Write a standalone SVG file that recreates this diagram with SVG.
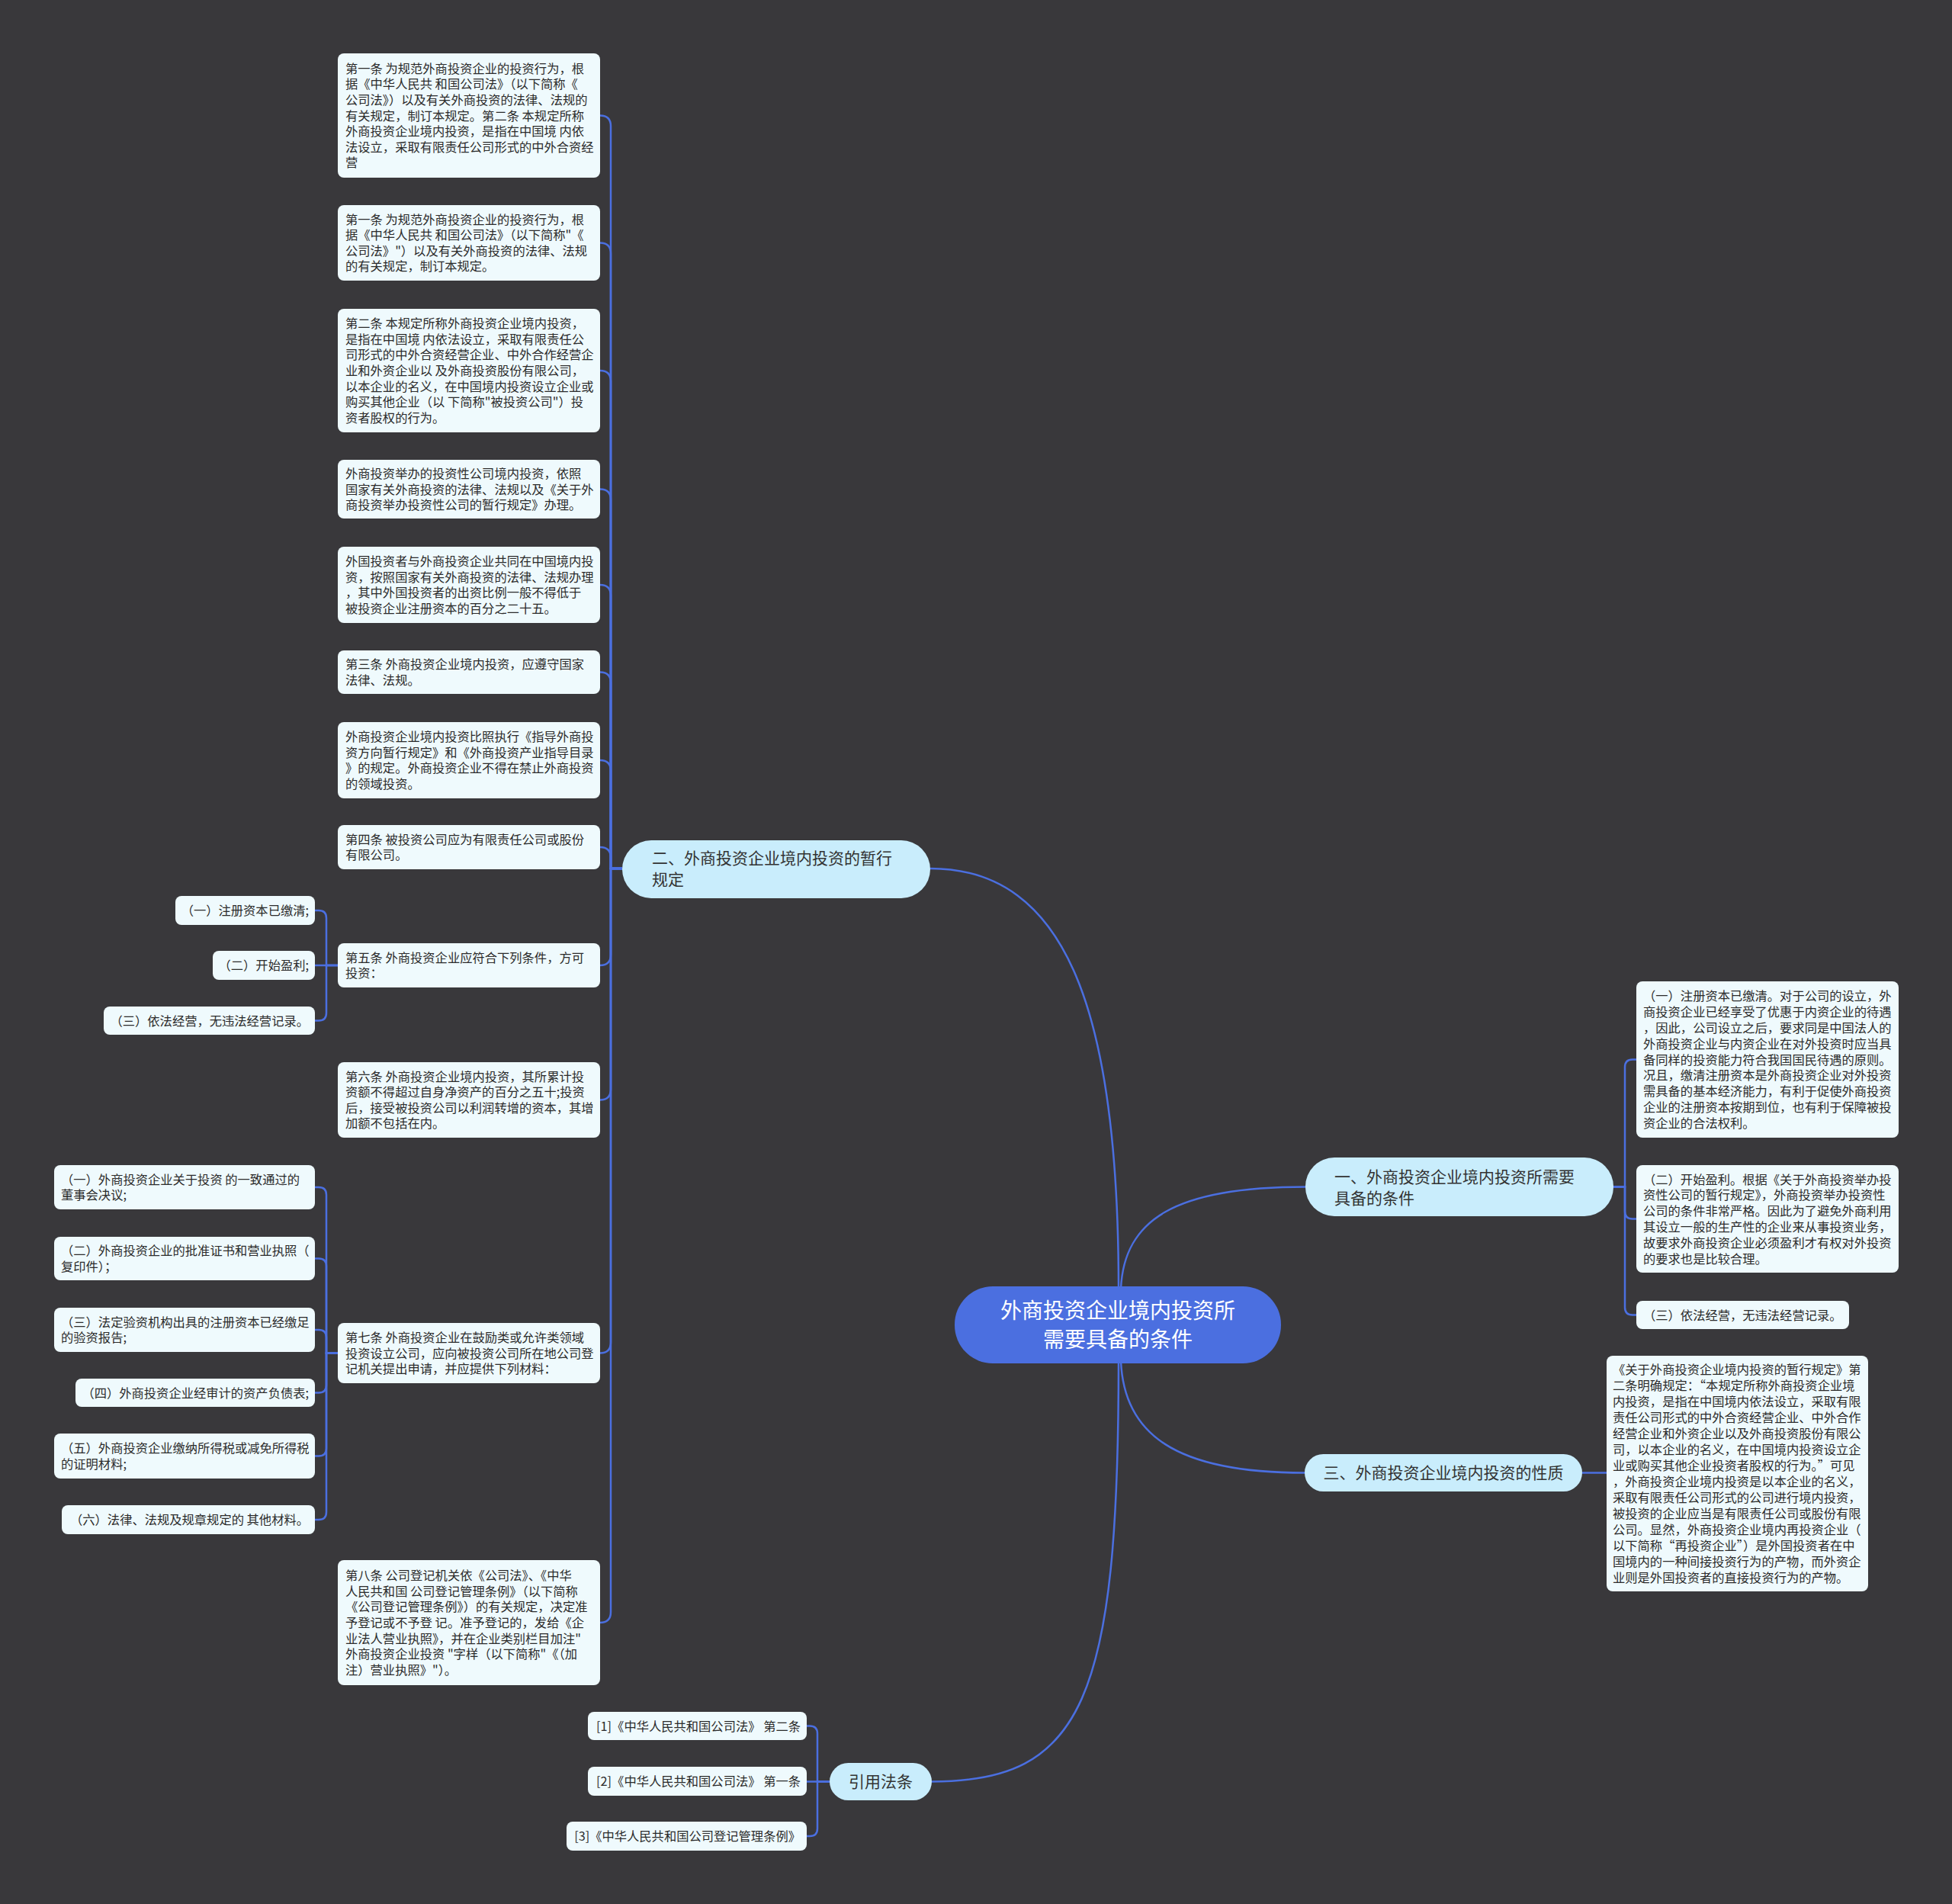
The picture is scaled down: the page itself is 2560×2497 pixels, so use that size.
<svg xmlns="http://www.w3.org/2000/svg" width="2560" height="2497" viewBox="0 0 2560 2497">
<style>
.bg{fill:#39383b}
.c path{fill:none;stroke:#4b6fe0;stroke-width:2.5}
.n rect{fill:#effafd}
.t{font-family:"Noto Sans CJK SC","Noto Sans",sans-serif;font-size:16.3px;fill:#2b2b2b}
.e{text-anchor:end}
.b rect{fill:#c9edfc}
.bt{font-family:"Noto Sans CJK SC","Noto Sans",sans-serif;font-size:21px;fill:#333}
.r rect{fill:#4b6fe0}
.rt{font-family:"Noto Sans CJK SC","Noto Sans",sans-serif;font-size:28px;fill:#fff;text-anchor:middle}
</style>
<rect class="bg" x="0" y="0" width="2560" height="2497"/>
<g class="c" id="connectors">
<path d="M1467,1690 C1467,1330 1400,1139 1220,1139"/>
<path d="M1470,1690 C1474,1600 1540,1556.5 1712,1556.5"/>
<path d="M1470,1785 C1474,1880 1540,1931.5 1711,1931.5"/>
<path d="M1467,1785 C1467,2230 1420,2336.5 1222,2336.5"/>
<path d="M787,151.5 Q801,151.5 801,165.5 V1139 H816"/>
<path d="M787,318.5 Q801,318.5 801,332.5 V1139 H816"/>
<path d="M787,486 Q801,486 801,500 V1139 H816"/>
<path d="M787,641.5 Q801,641.5 801,655.5 V1139 H816"/>
<path d="M787,767 Q801,767 801,781 V1139 H816"/>
<path d="M787,881.5 Q801,881.5 801,895.5 V1139 H816"/>
<path d="M787,997 Q801,997 801,1011 V1139 H816"/>
<path d="M787,1111 Q801,1111 801,1125 V1139 H816"/>
<path d="M787,1266 Q801,1266 801,1252 V1139 H816"/>
<path d="M787,1442.5 Q801,1442.5 801,1428.5 V1139 H816"/>
<path d="M787,1774.5 Q801,1774.5 801,1760.5 V1139 H816"/>
<path d="M787,2128 Q801,2128 801,2114 V1139 H816"/>
<path d="M413,1194 H418 Q428,1194 428,1204 V1266 H444"/>
<path d="M413,1266 H444"/>
<path d="M413,1338.5 H418 Q428,1338.5 428,1328.5 V1266 H444"/>
<path d="M413,1557 H418 Q428,1557 428,1567 V1774.5 H444"/>
<path d="M413,1650.5 H418 Q428,1650.5 428,1660.5 V1774.5 H444"/>
<path d="M413,1744 H418 Q428,1744 428,1754 V1774.5 H444"/>
<path d="M413,1826.5 H418 Q428,1826.5 428,1816.5 V1774.5 H444"/>
<path d="M413,1909.5 H418 Q428,1909.5 428,1899.5 V1774.5 H444"/>
<path d="M413,1993 H418 Q428,1993 428,1983 V1774.5 H444"/>
<path d="M2146,1389.5 H2141 Q2131,1389.5 2131,1399.5 V1556.5 H2116"/>
<path d="M2146,1598.5 H2141 Q2131,1598.5 2131,1588.5 V1556.5 H2116"/>
<path d="M2146,1724.5 H2141 Q2131,1724.5 2131,1714.5 V1556.5 H2116"/>
<path d="M2075,1931.5 H2107"/>
<path d="M1058,2263.5 H1062 Q1072,2263.5 1072,2273.5 V2336.5 H1088"/>
<path d="M1058,2336.5 H1088"/>
<path d="M1058,2408 H1062 Q1072,2408 1072,2398 V2336.5 H1088"/>
</g>

<g class="r" id="root">
<rect x="1252" y="1687" width="428" height="101" rx="50"/>
<text class="rt"><tspan x="1466" y="1729">外商投资企业境内投资所</tspan><tspan x="1466" y="1767">需要具备的条件</tspan></text>
</g>

<g class="b" id="b2">
<rect x="816" y="1102" width="404" height="76" rx="38"/>
<text class="bt"><tspan x="855" y="1132.5">二、外商投资企业境内投资的暂行</tspan><tspan x="855" y="1160.5">规定</tspan></text>
</g>
<g class="b" id="b1">
<rect x="1712" y="1518" width="404" height="77" rx="38"/>
<text class="bt"><tspan x="1750" y="1550.5">一、外商投资企业境内投资所需要</tspan><tspan x="1750" y="1578.5">具备的条件</tspan></text>
</g>
<g class="b" id="b3">
<rect x="1711" y="1907" width="364" height="49" rx="24.5"/>
<text class="bt" x="1893" y="1939" text-anchor="middle">三、外商投资企业境内投资的性质</text>
</g>
<g class="b" id="b4">
<rect x="1088" y="2312" width="134" height="49" rx="24.5"/>
<text class="bt" x="1155" y="2344" text-anchor="middle">引用法条</text>
</g>

<g class="n" id="n2-1">
<rect x="443" y="70" width="344" height="163" rx="8"/>
<text class="t"><tspan x="453" y="95.7">第一条 为规范外商投资企业的投资行为，根</tspan><tspan x="453" y="116.3">据《中华人民共 和国公司法》（以下简称《</tspan><tspan x="453" y="136.9">公司法》）以及有关外商投资的法律、法规的</tspan><tspan x="453" y="157.5">有关规定，制订本规定。第二条 本规定所称</tspan><tspan x="453" y="178.1">外商投资企业境内投资，是指在中国境 内依</tspan><tspan x="453" y="198.7">法设立，采取有限责任公司形式的中外合资经</tspan><tspan x="453" y="219.3">营</tspan></text>
</g>
<g class="n" id="n2-2">
<rect x="443" y="269" width="344" height="99" rx="8"/>
<text class="t"><tspan x="453" y="293.6">第一条 为规范外商投资企业的投资行为，根</tspan><tspan x="453" y="314.2">据《中华人民共 和国公司法》（以下简称"《</tspan><tspan x="453" y="334.8">公司法》"）以及有关外商投资的法律、法规</tspan><tspan x="453" y="355.4">的有关规定，制订本规定。</tspan></text>
</g>
<g class="n" id="n2-3">
<rect x="443" y="405" width="344" height="162" rx="8"/>
<text class="t"><tspan x="453" y="430.2">第二条 本规定所称外商投资企业境内投资，</tspan><tspan x="453" y="450.8">是指在中国境 内依法设立，采取有限责任公</tspan><tspan x="453" y="471.4">司形式的中外合资经营企业、中外合作经营企</tspan><tspan x="453" y="492">业和外资企业以 及外商投资股份有限公司，</tspan><tspan x="453" y="512.6">以本企业的名义，在中国境内投资设立企业或</tspan><tspan x="453" y="533.2">购买其他企业（以 下简称"被投资公司"）投</tspan><tspan x="453" y="553.8">资者股权的行为。</tspan></text>
</g>
<g class="n" id="n2-4">
<rect x="443" y="603" width="344" height="77" rx="8"/>
<text class="t"><tspan x="453" y="626.9">外商投资举办的投资性公司境内投资，依照</tspan><tspan x="453" y="647.5">国家有关外商投资的法律、法规以及《关于外</tspan><tspan x="453" y="668.1">商投资举办投资性公司的暂行规定》办理。</tspan></text>
</g>
<g class="n" id="n2-5">
<rect x="443" y="717" width="344" height="100" rx="8"/>
<text class="t"><tspan x="453" y="742.1">外国投资者与外商投资企业共同在中国境内投</tspan><tspan x="453" y="762.7">资，按照国家有关外商投资的法律、法规办理</tspan><tspan x="453" y="783.3">，其中外国投资者的出资比例一般不得低于</tspan><tspan x="453" y="803.9">被投资企业注册资本的百分之二十五。</tspan></text>
</g>
<g class="n" id="n2-6">
<rect x="443" y="853" width="344" height="57" rx="8"/>
<text class="t"><tspan x="453" y="877.2">第三条 外商投资企业境内投资，应遵守国家</tspan><tspan x="453" y="897.8">法律、法规。</tspan></text>
</g>
<g class="n" id="n2-7">
<rect x="443" y="947" width="344" height="100" rx="8"/>
<text class="t"><tspan x="453" y="972.1">外商投资企业境内投资比照执行《指导外商投</tspan><tspan x="453" y="992.7">资方向暂行规定》和《外商投资产业指导目录</tspan><tspan x="453" y="1013.3">》的规定。外商投资企业不得在禁止外商投资</tspan><tspan x="453" y="1033.9">的领域投资。</tspan></text>
</g>
<g class="n" id="n2-8">
<rect x="443" y="1082" width="344" height="58" rx="8"/>
<text class="t"><tspan x="453" y="1106.7">第四条 被投资公司应为有限责任公司或股份</tspan><tspan x="453" y="1127.3">有限公司。</tspan></text>
</g>
<g class="n" id="n2-9">
<rect x="443" y="1237" width="344" height="58" rx="8"/>
<text class="t"><tspan x="453" y="1261.7">第五条 外商投资企业应符合下列条件，方可</tspan><tspan x="453" y="1282.3">投资：</tspan></text>
</g>
<g class="n" id="n2-9-1">
<rect x="230" y="1175" width="183" height="38" rx="8"/>
<text class="t e" x="405" y="1200">（一）注册资本已缴清;</text>
</g>
<g class="n" id="n2-9-2">
<rect x="279" y="1247" width="134" height="38" rx="8"/>
<text class="t e" x="405" y="1272">（二）开始盈利;</text>
</g>
<g class="n" id="n2-9-3">
<rect x="136" y="1320" width="277" height="37" rx="8"/>
<text class="t e" x="405" y="1344.5">（三）依法经营，无违法经营记录。</text>
</g>
<g class="n" id="n2-10">
<rect x="443" y="1393" width="344" height="99" rx="8"/>
<text class="t"><tspan x="453" y="1417.6">第六条 外商投资企业境内投资，其所累计投</tspan><tspan x="453" y="1438.2">资额不得超过自身净资产的百分之五十;投资</tspan><tspan x="453" y="1458.8">后，接受被投资公司以利润转增的资本，其增</tspan><tspan x="453" y="1479.4">加额不包括在内。</tspan></text>
</g>
<g class="n" id="n2-11">
<rect x="443" y="1735" width="344" height="79" rx="8"/>
<text class="t"><tspan x="453" y="1759.9">第七条 外商投资企业在鼓励类或允许类领域</tspan><tspan x="453" y="1780.5">投资设立公司，应向被投资公司所在地公司登</tspan><tspan x="453" y="1801.1">记机关提出申请，并应提供下列材料：</tspan></text>
</g>
<g class="n" id="n2-11-1">
<rect x="71" y="1528" width="342" height="58" rx="8"/>
<text class="t"><tspan x="80" y="1552.7">（一）外商投资企业关于投资 的一致通过的</tspan><tspan x="80" y="1573.3">董事会决议;</tspan></text>
</g>
<g class="n" id="n2-11-2">
<rect x="71" y="1622" width="342" height="57" rx="8"/>
<text class="t"><tspan x="80" y="1646.2">（二）外商投资企业的批准证书和营业执照（</tspan><tspan x="80" y="1666.8">复印件）；</tspan></text>
</g>
<g class="n" id="n2-11-3">
<rect x="71" y="1715" width="342" height="58" rx="8"/>
<text class="t"><tspan x="80" y="1739.7">（三）法定验资机构出具的注册资本已经缴足</tspan><tspan x="80" y="1760.3">的验资报告;</tspan></text>
</g>
<g class="n" id="n2-11-4">
<rect x="99" y="1808" width="314" height="37" rx="8"/>
<text class="t e" x="405" y="1832.5">（四）外商投资企业经审计的资产负债表;</text>
</g>
<g class="n" id="n2-11-5">
<rect x="71" y="1880" width="342" height="59" rx="8"/>
<text class="t"><tspan x="80" y="1905.2">（五）外商投资企业缴纳所得税或减免所得税</tspan><tspan x="80" y="1925.8">的证明材料;</tspan></text>
</g>
<g class="n" id="n2-11-6">
<rect x="81" y="1974" width="332" height="38" rx="8"/>
<text class="t e" x="405" y="1999">（六）法律、法规及规章规定的 其他材料。</text>
</g>
<g class="n" id="n2-12">
<rect x="443" y="2046" width="344" height="164" rx="8"/>
<text class="t"><tspan x="453" y="2072.2">第八条 公司登记机关依《公司法》、《中华</tspan><tspan x="453" y="2092.8">人民共和国 公司登记管理条例》（以下简称</tspan><tspan x="453" y="2113.4">《公司登记管理条例》）的有关规定，决定准</tspan><tspan x="453" y="2134">予登记或不予登 记。准予登记的，发给《企</tspan><tspan x="453" y="2154.6">业法人营业执照》，并在企业类别栏目加注"</tspan><tspan x="453" y="2175.2">外商投资企业投资 "字样（以下简称"《（加</tspan><tspan x="453" y="2195.8">注）营业执照》"）。</tspan></text>
</g>

<g class="n" id="n1-1">
<rect x="2146" y="1287" width="344" height="205" rx="8"/>
<text class="t"><tspan x="2155" y="1312.3">（一）注册资本已缴清。对于公司的设立，外</tspan><tspan x="2155" y="1333.1">商投资企业已经享受了优惠于内资企业的待遇</tspan><tspan x="2155" y="1353.9">，因此，公司设立之后，要求同是中国法人的</tspan><tspan x="2155" y="1374.7">外商投资企业与内资企业在对外投资时应当具</tspan><tspan x="2155" y="1395.5">备同样的投资能力符合我国国民待遇的原则。</tspan><tspan x="2155" y="1416.3">况且，缴清注册资本是外商投资企业对外投资</tspan><tspan x="2155" y="1437.1">需具备的基本经济能力，有利于促使外商投资</tspan><tspan x="2155" y="1457.9">企业的注册资本按期到位，也有利于保障被投</tspan><tspan x="2155" y="1478.7">资企业的合法权利。</tspan></text>
</g>
<g class="n" id="n1-2">
<rect x="2146" y="1528" width="344" height="141" rx="8"/>
<text class="t"><tspan x="2155" y="1552.5">（二）开始盈利。根据《关于外商投资举办投</tspan><tspan x="2155" y="1573.3">资性公司的暂行规定》，外商投资举办投资性</tspan><tspan x="2155" y="1594.1">公司的条件非常严格。因此为了避免外商利用</tspan><tspan x="2155" y="1614.9">其设立一般的生产性的企业来从事投资业务，</tspan><tspan x="2155" y="1635.7">故要求外商投资企业必须盈利才有权对外投资</tspan><tspan x="2155" y="1656.5">的要求也是比较合理。</tspan></text>
</g>
<g class="n" id="n1-3">
<rect x="2146" y="1706" width="279" height="37" rx="8"/>
<text class="t" x="2155" y="1730.5">（三）依法经营，无违法经营记录。</text>
</g>

<g class="n" id="n3-1">
<rect x="2107" y="1778" width="343" height="309" rx="8"/>
<text class="t"><tspan x="2115" y="1802">《关于外商投资企业境内投资的暂行规定》第</tspan><tspan x="2115" y="1823">二条明确规定：“本规定所称外商投资企业境</tspan><tspan x="2115" y="1844">内投资，是指在中国境内依法设立，采取有限</tspan><tspan x="2115" y="1865">责任公司形式的中外合资经营企业、中外合作</tspan><tspan x="2115" y="1886">经营企业和外资企业以及外商投资股份有限公</tspan><tspan x="2115" y="1907">司，以本企业的名义，在中国境内投资设立企</tspan><tspan x="2115" y="1928">业或购买其他企业投资者股权的行为。”可见</tspan><tspan x="2115" y="1949">，外商投资企业境内投资是以本企业的名义，</tspan><tspan x="2115" y="1970">采取有限责任公司形式的公司进行境内投资，</tspan><tspan x="2115" y="1991">被投资的企业应当是有限责任公司或股份有限</tspan><tspan x="2115" y="2012">公司。显然，外商投资企业境内再投资企业（</tspan><tspan x="2115" y="2033">以下简称“再投资企业”）是外国投资者在中</tspan><tspan x="2115" y="2054">国境内的一种间接投资行为的产物，而外资企</tspan><tspan x="2115" y="2075">业则是外国投资者的直接投资行为的产物。</tspan></text>
</g>

<g class="n" id="n4-1">
<rect x="771" y="2245" width="287" height="37" rx="8"/>
<text class="t e" x="1050" y="2269.5">[1]《中华人民共和国公司法》 第二条</text>
</g>
<g class="n" id="n4-2">
<rect x="771" y="2317" width="287" height="38" rx="8"/>
<text class="t e" x="1050" y="2342">[2]《中华人民共和国公司法》 第一条</text>
</g>
<g class="n" id="n4-3">
<rect x="743" y="2389" width="315" height="38" rx="8"/>
<text class="t e" x="1050" y="2414">[3]《中华人民共和国公司登记管理条例》</text>
</g>
</svg>
